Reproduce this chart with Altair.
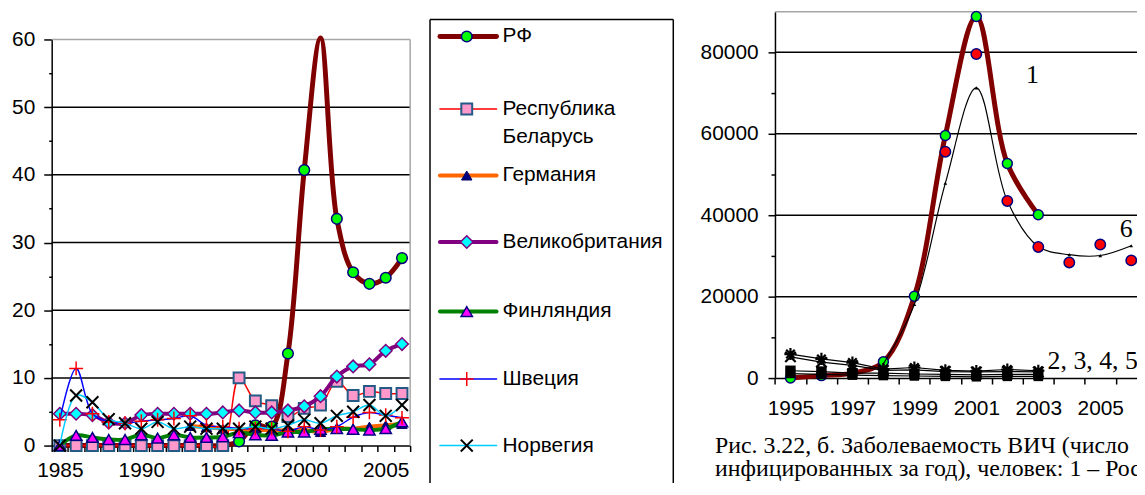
import altair as alt
import pandas as pd

# ---------------- left chart: incidence per 100 000 ----------------
years_left = [1985, 1986, 1987, 1988, 1989, 1990, 1991, 1992, 1993, 1994, 1995,
              1996, 1997, 1998, 1999, 2000, 2001, 2002, 2003, 2004, 2005, 2006]
rf_left = [0.0, 0.0, 0.0, 0.0, 0.0, 0.0, 0.0, 0.0, 0.0, 0.0, 0.0,
           0.6, 3.0, 2.8, 13.6, 40.7, 60.2, 33.5, 25.6, 23.9, 24.8, 27.7]
belarus_left = [0.0, 0.0, 0.0, 0.0, 0.0, 0.0, 0.0, 0.0, 0.0, 0.0, 0.0,
                10.0, 6.6, 5.9, 4.3, 5.5, 6.0, 9.5, 7.4, 8.0, 7.7, 7.7]
germany_years = [1993, 1994, 1995, 1996, 1997, 1998, 1999, 2000, 2001, 2002, 2003, 2004, 2005, 2006]
germany_left = [2.9, 2.7, 2.5, 2.4, 2.3, 2.3, 2.2, 2.3, 2.0, 2.5, 2.5, 2.8, 3.0, 3.2]
uk_left = [4.7, 4.7, 4.5, 3.4, 3.3, 4.5, 4.7, 4.7, 4.7, 4.7, 4.9,
           5.2, 4.9, 4.9, 5.2, 5.8, 7.3, 10.2, 11.7, 12.0, 14.0, 15.0]
finland_left = [0.0, 1.5, 1.2, 0.9, 0.9, 1.6, 1.1, 1.6, 1.2, 1.2, 1.3,
                1.9, 1.6, 1.5, 2.0, 2.0, 2.4, 2.5, 2.4, 2.3, 2.5, 3.5]
sweden_left = [3.8, 11.4, 4.7, 3.5, 3.3, 3.6, 3.8, 4.0, 4.4, 3.0, 2.8,
               2.5, 2.5, 2.5, 2.1, 2.8, 2.3, 2.8, 4.2, 4.9, 4.5, 4.1]
norway_left = [0.0, 7.4, 6.4, 3.9, 3.3, 2.5, 3.5, 2.5, 2.8, 2.5, 2.5,
               2.5, 2.8, 2.5, 3.0, 3.8, 3.3, 4.4, 5.0, 6.0, 4.4, 6.0]
legend_labels = ["РФ", "Республика", "Беларусь", "Германия", "Великобритания",
                 "Финляндия", "Швеция", "Норвегия"]
left_grid = [10, 20, 30, 40, 50]

# ---------------- right chart: persons infected per year ----------------
rf_right_years = [1995, 1996, 1997, 1998, 1999, 2000, 2001, 2002, 2003]
rf_right = [0, 600, 1200, 4000, 20100, 59600, 88800, 52700, 40100]
red_years = [2000, 2001, 2002, 2003, 2004, 2005, 2006]
red_right = [55600, 79600, 43500, 32200, 28400, 32800, 28900]
s6_years = [1998, 1999, 2000, 2001, 2002, 2003, 2004, 2005, 2006]
s6_right = [3500, 18100, 47900, 71300, 43500, 32300, 30300, 30100, 32500]
low_years = [1995, 1996, 1997, 1998, 1999, 2000, 2001, 2002, 2003]
s2_right = [5900, 4700, 3800, 2200, 2600, 1900, 1700, 2100, 1800]
s3_right = [5200, 3900, 3100, 1900, 2000, 1600, 1500, 1600, 1500]
s4_right = [1800, 1600, 1200, 1200, 1000, 900, 800, 900, 900]
s5_right = [1100, 900, 700, 600, 500, 400, 300, 400, 400]
right_grid = [20000, 40000, 60000, 80000]
annotations = ["1", "6", "2, 3, 4, 5"]
annotation_year = [2002.6, 2005.63, 2003.3]
annotation_value = [74400, 36700, 4200]
caption_1 = "Рис. 3.22, б. Заболеваемость ВИЧ (число"
caption_2 = "инфицированных за год), человек: 1 – Россия"

PLUS = "M-1,0L1,0M0,-1L0,1"
CROSS = "M-1,-1L1,1M-1,1L1,-1"
STAR = "M-1,0L1,0M0,-1L0,1M-0.7,-0.7L0.7,0.7M-0.7,0.7L0.7,-0.7"
FONT = "Liberation Sans"
SERIF = "Liberation Serif"
GRAY = "#A6A6A6"

PAD_L = 44
W, H = 1093, 475          # drawing area (svg = W + PAD_L by H)
one = pd.DataFrame({"k": [0]})

# ---------------- scales (explicit pixel ranges) ----------------
SXL = alt.Scale(domain=[1984.5, 2006.5], range=[0, 361], nice=False, zero=False)
SYL = alt.Scale(domain=[0, 60], range=[439, 30], nice=False, zero=False)
SXR = alt.Scale(domain=[1994.5, 2006.5], range=[728.4, 1102.8], nice=False, zero=False)
SYR = alt.Scale(domain=[0, 90000], range=[371, 2], nice=False, zero=False)

common_axis = dict(title=None, grid=False, labelFlush=False, labelOverlap=False, labelBound=False)
ax_xl = alt.Axis(orient="bottom", offset=439 - H, values=[1984.5 + i for i in range(23)],
                 labelExpr="(datum.value + 0.5) % 5 == 0 ? format(datum.value + 0.5, 'd') : ''",
                 labelOffset=8.2, tickSize=6, labelPadding=8, **common_axis)
ax_yl = alt.Axis(orient="left", offset=0, values=[5 * i for i in range(13)],
                 labelExpr="datum.value % 10 == 0 ? format(datum.value, 'd') : ''",
                 tickSize={"condition": {"test": "datum.value % 10 == 0", "value": 8}, "value": 3},
                 labelPadding=9, **common_axis)
ax_xr = alt.Axis(orient="bottom", offset=371 - H, values=[1994.5 + i for i in range(12)],
                 labelExpr="(datum.value + 0.5) % 2 == 1 ? format(datum.value + 0.5, 'd') : ''",
                 labelOffset=15.6, tickSize=6, labelPadding=14, **common_axis)
ax_yr = alt.Axis(orient="left", offset=-728.4, values=[10000 * i for i in range(9)],
                 labelExpr="datum.value % 20000 == 0 ? format(datum.value, 'd') : ''",
                 tickSize={"condition": {"test": "datum.value % 20000 == 0", "value": 7}, "value": 4},
                 labelPadding=10, **common_axis)

XL = alt.X("year:Q", scale=SXL, axis=ax_xl)
YL = alt.Y("value:Q", scale=SYL, axis=ax_yl)
XR = alt.X("year:Q", scale=SXR, axis=ax_xr)
YR = alt.Y("value:Q", scale=SYR, axis=ax_yr)

# ---------------- left chart layers ----------------
left_styles = [
    (years_left, rf_left, dict(color="#800000", strokeWidth=5),
     dict(shape="circle", filled=True, fill="#00FF00", stroke="#000080", strokeWidth=1.5, size=115)),
    (years_left, belarus_left, dict(color="#FF0000", strokeWidth=1.5),
     dict(shape="square", filled=True, fill="#FF99CC", stroke="#245A86", strokeWidth=2, size=120)),
    (germany_years, germany_left, dict(color="#FF6600", strokeWidth=4),
     dict(shape="triangle-up", filled=True, fill="#000080", stroke="#000060", strokeWidth=1, size=110)),
    (years_left, uk_left, dict(color="#800080", strokeWidth=4),
     dict(shape="diamond", filled=True, fill="#00FFFF", stroke="#800080", strokeWidth=1.5, size=160)),
    (years_left, finland_left, dict(color="#008000", strokeWidth=4),
     dict(shape="triangle-up", filled=True, fill="#FF00FF", stroke="#000080", strokeWidth=1.5, size=130)),
    (years_left, sweden_left, dict(color="#0000FF", strokeWidth=1.5),
     dict(shape=PLUS, filled=False, stroke="#FF0000", strokeWidth=1.5, size=196)),
    (years_left, norway_left, dict(color="#00CCFF", strokeWidth=1.5),
     dict(shape=CROSS, filled=False, stroke="black", strokeWidth=2, size=144)),
]

left_layers = [
    alt.Chart(pd.DataFrame({"v": left_grid})).mark_rule(color="black", strokeWidth=1.5).encode(
        y=alt.Y("v:Q", scale=SYL, axis=ax_yl), x=alt.X(datum=1984.5, scale=SXL, axis=ax_xl),
        x2=alt.datum(2006.5)),
    alt.Chart(one).mark_rule(color=GRAY, strokeWidth=1.5).encode(
        y=alt.Y(datum=60, scale=SYL, axis=ax_yl), x=alt.X(datum=1984.5, scale=SXL, axis=ax_xl),
        x2=alt.datum(2006.5)),
    alt.Chart(one).mark_rule(color=GRAY, strokeWidth=1.5).encode(
        x=alt.X(datum=2006.5, scale=SXL, axis=ax_xl), y=alt.Y(datum=0, scale=SYL, axis=ax_yl),
        y2=alt.datum(60)),
]
for i, (yrs, vals, lkw, pkw) in enumerate(left_styles):
    df = pd.DataFrame({"year": yrs, "value": vals})
    left_layers.append(alt.Chart(df).mark_line(interpolate="catmull-rom", **lkw).encode(x=XL, y=YL))
    pts = alt.Chart(df).mark_point(opacity=1, **pkw).encode(x=XL, y=YL)
    if i == 0:
        pts = pts.transform_filter("datum.year != 2001")
    left_layers.append(pts)

# legend box to the right of the left plot (pixel layout)
BOX_L, BOX_R, BOX_T, BOX_B = 381, 626, 10, H + 5
for enc in [dict(x=alt.value(BOX_L), x2=alt.value(BOX_R), y=alt.value(BOX_T)),
            dict(x=alt.value(BOX_L), y=alt.value(BOX_T), y2=alt.value(BOX_B)),
            dict(x=alt.value(BOX_R), y=alt.value(BOX_T), y2=alt.value(BOX_B))]:
    left_layers.append(alt.Chart(one).mark_rule(color="black", strokeWidth=1.5).encode(**enc))

row_y = [27, 100, 167, 234, 304, 372, 439]
label_rows = [[legend_labels[0]], [legend_labels[1], legend_labels[2]], [legend_labels[3]],
              [legend_labels[4]], [legend_labels[5]], [legend_labels[6]], [legend_labels[7]]]
for (yrs, vals, lkw, pkw), ry, labs in zip(left_styles, row_y, label_rows):
    left_layers.append(alt.Chart(one).mark_rule(strokeCap="round", **lkw).encode(
        x=alt.value(391), x2=alt.value(448), y=alt.value(ry)))
    left_layers.append(alt.Chart(one).mark_point(opacity=1, **pkw).encode(
        x=alt.value(418), y=alt.value(ry)))
    for j, lab in enumerate(labs):
        left_layers.append(alt.Chart(one).mark_text(
            text=lab, align="left", baseline="middle", font=FONT, fontSize=21, color="black").encode(
            x=alt.value(454), y=alt.value(ry + 28 * j)))

left_group = alt.layer(*left_layers)


# ---------------- right chart layers ----------------
def dfr(yrs, vals):
    return pd.DataFrame({"year": yrs, "value": vals})


right_layers = [
    alt.Chart(pd.DataFrame({"v": right_grid})).mark_rule(color="black", strokeWidth=1.5).encode(
        y=alt.Y("v:Q", scale=SYR, axis=ax_yr), x=alt.X(datum=1994.5, scale=SXR, axis=ax_xr),
        x2=alt.datum(2006.5)),
    alt.Chart(one).mark_rule(color=GRAY, strokeWidth=1.5).encode(
        y=alt.Y(datum=90000, scale=SYR, axis=ax_yr), x=alt.X(datum=1994.5, scale=SXR, axis=ax_xr),
        x2=alt.datum(2006.5)),
    alt.Chart(dfr(rf_right_years, rf_right)).mark_line(
        interpolate="catmull-rom", color="#800000", strokeWidth=5).encode(x=XR, y=YR),
    alt.Chart(dfr(rf_right_years, rf_right)).mark_point(
        shape="circle", filled=True, fill="#00FF00", stroke="#000080", strokeWidth=1.5,
        size=100, opacity=1).encode(x=XR, y=YR),
    alt.Chart(dfr(s6_years, s6_right)).mark_line(
        interpolate="catmull-rom", color="black", strokeWidth=1.2).encode(x=XR, y=YR),
    alt.Chart(dfr(s6_years, s6_right)).mark_point(
        shape="triangle-up", filled=True, color="black", size=14, opacity=1).encode(x=XR, y=YR),
    alt.Chart(dfr(red_years, red_right)).mark_point(
        shape="circle", filled=True, fill="#FF0000", stroke="#000080", strokeWidth=1.5,
        size=110, opacity=1).encode(x=XR, y=YR),
]
for vals, shape, filled, size in [(s2_right, STAR, False, 150), (s3_right, CROSS, False, 110),
                                  (s4_right, "square", True, 110), (s5_right, "square", True, 90)]:
    d = dfr(low_years, vals)
    right_layers.append(alt.Chart(d).mark_line(color="black", strokeWidth=1.2).encode(x=XR, y=YR))
    if filled:
        right_layers.append(alt.Chart(d).mark_point(
            shape=shape, filled=True, color="black", size=size, opacity=1).encode(x=XR, y=YR))
    else:
        right_layers.append(alt.Chart(d).mark_point(
            shape=shape, filled=False, stroke="black", strokeWidth=2.2, size=size, opacity=1).encode(x=XR, y=YR))

right_layers.append(alt.Chart(pd.DataFrame({"t": annotations, "year": annotation_year,
                                            "value": annotation_value})).mark_text(
    align="left", baseline="middle", font=SERIF, fontSize=26, color="black").encode(
    x=XR, y=YR, text="t:N"))

for txt, yv in [(caption_1, 446), (caption_2, 470)]:
    right_layers.append(alt.Chart(one).mark_text(
        text=txt, align="left", baseline="alphabetic", font=SERIF, fontSize=24,
        color="black").encode(x=alt.value(668), y=alt.value(yv)))

right_group = alt.layer(*right_layers)

chart = alt.layer(left_group, right_group).resolve_scale(
    x="independent", y="independent"
).properties(
    width=W, height=H,
    autosize=alt.AutoSizeParams(type="none"),
    padding={"left": PAD_L, "top": 0, "right": 0, "bottom": 0},
).configure_view(stroke="transparent").configure_axis(
    labelFont=FONT, labelFontSize=21, labelColor="black", domainColor="black",
    tickColor="black", domainWidth=1.5, tickWidth=1.5, labelOverlap=False
)

chart.save("out.html", embed_options={"renderer": "svg", "actions": False})
